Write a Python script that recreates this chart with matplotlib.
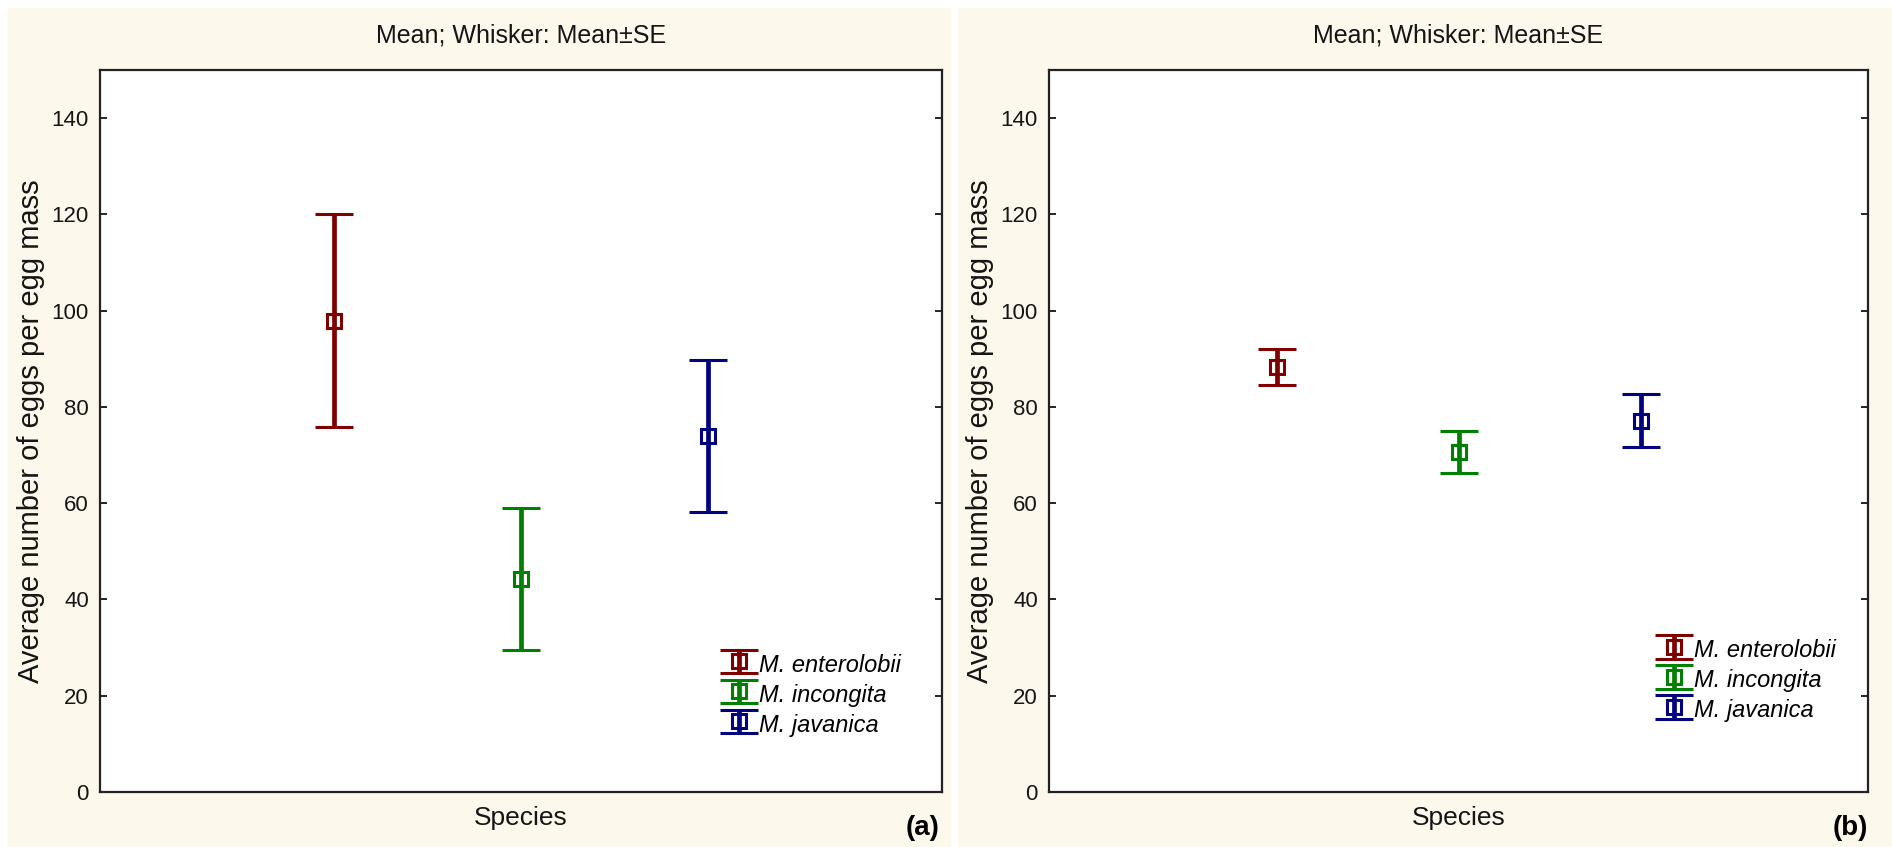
import matplotlib.pyplot as plt
from matplotlib.patches import Rectangle

species = ['M. enterolobii', 'M. incongita', 'M. javanica']
colors = ['#800000', '#008000', '#000080']

# panel (a)
mean_a = [97.9, 44.2, 73.9]
se_a = [22.1, 14.7, 15.8]
# panel (b)
mean_b = [88.3, 70.6, 77.1]
se_b = [3.7, 4.3, 5.5]

xpos = [1, 2, 3]
yticks = [0, 20, 40, 60, 80, 100, 120, 140]

plt.rcParams['font.family'] = ['Liberation Sans', 'DejaVu Sans']

W, H = 1892, 847
fig = plt.figure(figsize=(W / 100, H / 100), dpi=100)
fig.patch.set_facecolor('white')

# cream panel backgrounds, behind the axes
cream = '#fdf8ec'
for x0, x1 in [(8, 950), (958, W)]:
    fig.add_artist(Rectangle((x0 / W, 0), (x1 - x0) / W, 1 - 8 / H,
                             transform=fig.transFigure, color=cream,
                             zorder=-10))

bottom = 1 - 792 / H
top = 1 - 70 / H
ax_a = fig.add_axes([100 / W, bottom, (942 - 100) / W, top - bottom])
ax_b = fig.add_axes([1049 / W, bottom, (1868 - 1049) / W, top - bottom])


def draw(ax, means, ses, legend_anchor):
    for x, m, s, c, name in zip(xpos, means, ses, colors, species):
        ax.errorbar(x, m, yerr=s, fmt='s', color=c, mfc='none', mec=c,
                    markersize=10, mew=2.2, elinewidth=3.4, capsize=14,
                    capthick=4, label=name)
    ax.set_xlim(-0.25, 4.25)
    ax.set_ylim(0, 150)
    ax.set_xticks([])
    ax.set_yticks(yticks)
    ax.tick_params(axis='y', direction='in', left=True, right=True,
                   length=5, width=1.2, labelsize=16, pad=8,
                   labelcolor='#151515')
    for sp in ax.spines.values():
        sp.set_linewidth(1.6)
        sp.set_color('#222222')
    ax.set_title('Mean; Whisker: Mean±SE', fontsize=18, pad=20,
                 color='#151515')
    ax.set_xlabel('Species', fontsize=19, labelpad=10, color='#151515')
    ax.set_ylabel('Average number of eggs per egg mass', fontsize=21,
                  labelpad=5, color='#151515')
    leg = ax.legend(loc='lower right', bbox_to_anchor=legend_anchor,
                    frameon=False, fontsize=17, handlelength=0.9,
                    handleheight=1.3, handletextpad=0.4, labelspacing=0.18,
                    borderpad=0)
    for t in leg.get_texts():
        t.set_style('italic')


draw(ax_a, mean_a, se_a, (0.965, 0.06))
draw(ax_b, mean_b, se_b, (0.975, 0.08))

fig.text(939 / W, 1 - 828 / H, '(a)', fontsize=20, fontweight='bold',
         ha='right', va='center')
fig.text(1868 / W, 1 - 828 / H, '(b)', fontsize=20, fontweight='bold',
         ha='right', va='center')

fig.savefig('out.png', dpi=100)
